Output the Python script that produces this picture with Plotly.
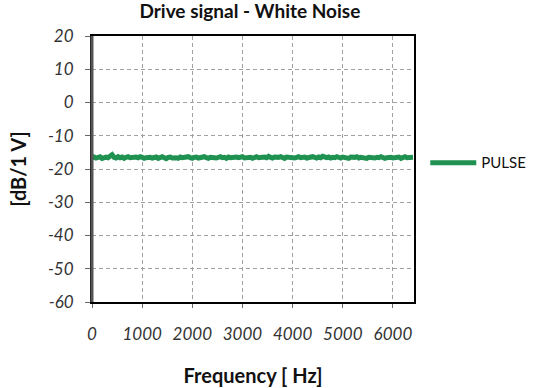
import plotly.graph_objects as go

freq_step = 40
pulse_db = [
-16.6,-16.4,-16.7,-16.5,-16.3,-16.8,-16.5,-16.4,-16.6,-16.2,
-15.7,-16.5,-16.7,-16.3,-16.6,-16.4,-16.8,-16.5,-16.3,-16.6,
-16.5,-16.7,-16.4,-16.6,-16.3,-16.5,-16.8,-16.6,-16.4,-16.5,
-16.7,-16.6,-16.4,-16.8,-16.5,-16.3,-16.6,-16.9,-16.5,-16.4,
-16.7,-16.5,-16.6,-16.8,-16.4,-16.6,-16.5,-16.7,-16.3,-16.6,
-16.8,-16.5,-16.4,-16.7,-16.6,-16.5,-16.3,-16.6,-16.8,-16.5,
-16.4,-16.6,-16.7,-16.5,-16.3,-16.6,-16.5,-16.8,-16.4,-16.6,
-16.5,-16.7,-16.4,-16.6,-16.5,-16.3,-16.7,-16.6,-16.4,-16.5,
-16.8,-16.5,-16.3,-16.6,-16.5,-16.7,-16.4,-16.6,-16.2,-16.5,
-16.7,-16.4,-16.6,-16.5,-16.3,-16.6,-16.8,-16.4,-16.5,-16.6,
-16.4,-16.7,-16.5,-16.3,-16.6,-16.5,-16.4,-16.7,-16.5,-16.6,
-16.3,-16.5,-16.7,-16.4,-16.6,-16.2,-16.5,-16.6,-16.4,-16.7,
-16.5,-16.6,-16.3,-16.5,-16.7,-16.4,-16.6,-16.5,-16.8,-16.4,
-16.6,-16.5,-16.3,-16.7,-16.5,-16.6,-16.4,-16.8,-16.5,-16.6,
-16.4,-16.7,-16.5,-16.6,-16.3,-16.5,-16.8,-16.6,-16.4,-16.5,
-16.7,-16.5,-16.6,-16.4,-16.8,-16.5,-16.3,-16.6,-16.5,-16.4,
-16.5,
]
frequency = [i * freq_step for i in range(len(pulse_db))]

x_ticks = [0, 1000, 2000, 3000, 4000, 5000, 6000]
y_ticks = [20, 10, 0, -10, -20, -30, -40, -50, -60]

fig = go.Figure()
fig.add_trace(go.Scatter(
    x=frequency, y=pulse_db, mode="lines", name="PULSE",
    line=dict(color="#1f9150", width=5),
))

font_family = "Lato, 'Open Sans', sans-serif"
fig.update_layout(
    width=534, height=388,
    margin=dict(l=92, r=120, t=36, b=86, autoexpand=False),
    paper_bgcolor="white", plot_bgcolor="white",
    title=dict(text="<b>Drive signal - White Noise</b>", x=0.468, xanchor="center",
               y=0.97, yanchor="middle",
               font=dict(family=font_family, size=19, color="#111")),
    showlegend=True,
    legend=dict(x=1.035, y=0.523, xanchor="left", yanchor="middle",
                itemwidth=46,
                font=dict(family=font_family, size=15, color="#111"),
                bgcolor="rgba(0,0,0,0)"),
    xaxis=dict(
        range=[0, 6420], tickvals=x_ticks, ticktext=[str(v) for v in x_ticks],
        automargin=False,
        showgrid=True, gridcolor="#a0a0a0", griddash="4px,3px", gridwidth=1,
        showline=True, linecolor="#000", linewidth=2, mirror=True,
        ticks="outside", ticklen=4, tickcolor="#666",
        ticklabelstandoff=12,
        tickfont=dict(family=font_family, size=17, color="#333", style="italic"),
        title=dict(text="<b>Frequency [ Hz]</b>", standoff=26,
                   font=dict(family=font_family, size=20, color="#111")),
        zeroline=False,
    ),
    yaxis=dict(
        range=[-60, 20], tickvals=y_ticks, ticktext=[str(v) for v in y_ticks],
        automargin=False,
        showgrid=True, gridcolor="#a0a0a0", griddash="4px,3px", gridwidth=1,
        showline=True, linecolor="#000", linewidth=2, mirror=True,
        ticks="outside", ticklen=5, tickcolor="#666",
        ticklabelstandoff=8,
        tickfont=dict(family=font_family, size=17, color="#333", style="italic"),
        title=dict(text="<b>[dB/1 V]</b>", standoff=16,
                   font=dict(family=font_family, size=20, color="#111")),
        zeroline=False,
    ),
    shapes=[dict(type="line", xref="paper", yref="paper", x0=0, x1=0, y0=0, y1=1,
                 line=dict(color="#555", width=3))],
)

fig.write_html("out.html")
